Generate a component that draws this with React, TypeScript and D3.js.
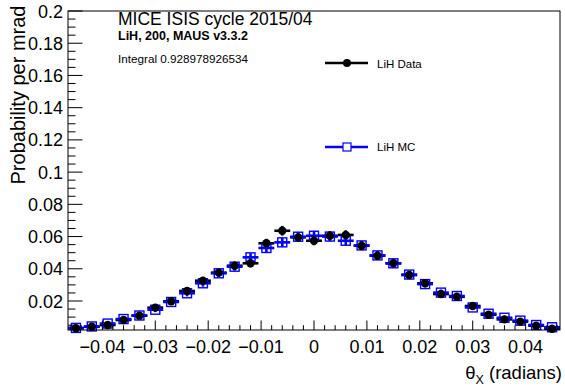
import React from "react";
import * as d3 from "d3";

const W = 565;
const H = 386;

const binCenters = [
  -0.045, -0.042, -0.039, -0.036, -0.033, -0.03, -0.027, -0.024, -0.021, -0.018, -0.015,
  -0.012, -0.009, -0.006, -0.003, 0, 0.003, 0.006, 0.009, 0.012, 0.015, 0.018, 0.021,
  0.024, 0.027, 0.03, 0.033, 0.036, 0.039, 0.042, 0.045,
];
const binHalfWidth = 0.0015;

const dataValues = [
  0.0031, 0.004, 0.0051, 0.0082, 0.0109, 0.0159, 0.0198, 0.0262, 0.0326, 0.0376, 0.0419,
  0.0434, 0.0558, 0.0636, 0.0595, 0.0574, 0.0605, 0.061, 0.0543, 0.0481, 0.0434, 0.0361,
  0.031, 0.0243, 0.0226, 0.0169, 0.0115, 0.0086, 0.0072, 0.0047, 0.0028,
];
const dataErrors = [
  0.0008, 0.0009, 0.001, 0.0012, 0.0014, 0.0016, 0.0018, 0.002, 0.0022, 0.0024, 0.0025,
  0.0025, 0.0028, 0.003, 0.0029, 0.0028, 0.0029, 0.0029, 0.0028, 0.0026, 0.0025, 0.0023,
  0.0021, 0.0019, 0.0018, 0.0016, 0.0013, 0.0012, 0.0011, 0.0009, 0.0008,
];
const mcValues = [
  0.0033, 0.0042, 0.006, 0.0088, 0.011, 0.0146, 0.0194, 0.0248, 0.031, 0.0372, 0.0413,
  0.0471, 0.0529, 0.0564, 0.0599, 0.0605, 0.06, 0.0574, 0.0545, 0.0483, 0.0434, 0.0364,
  0.0305, 0.0252, 0.0231, 0.016, 0.0121, 0.0096, 0.0078, 0.0051, 0.0037,
];
const mcErrors = [
  0.0007, 0.0008, 0.001, 0.0012, 0.0013, 0.0015, 0.0017, 0.0019, 0.0021, 0.0023, 0.0025,
  0.0026, 0.0028, 0.0029, 0.003, 0.003, 0.003, 0.0029, 0.0028, 0.0026, 0.0025, 0.0023,
  0.0021, 0.0019, 0.0018, 0.0015, 0.0013, 0.0012, 0.001, 0.0009, 0.0008,
];

const xTickLabels = [-0.04, -0.03, -0.02, -0.01, 0, 0.01, 0.02, 0.03, 0.04];
const yTickLabels = [0.02, 0.04, 0.06, 0.08, 0.1, 0.12, 0.14, 0.16, 0.18, 0.2];

const titleText = "MICE ISIS cycle 2015/04";
const subText = "LiH, 200, MAUS v3.3.2";
const integralText = "Integral 0.928978926534";
const legendData = "LiH Data";
const legendMC = "LiH MC";
const yTitle = "Probability per mrad";

const FONT = "'Liberation Sans', Arial, Helvetica, sans-serif";

export default function App() {
  const left = 68, right = 560, top = 11, bottom = 330;
  const x = d3.scaleLinear().domain([-0.0465, 0.0465]).range([left, right]);
  const y = d3.scaleLinear().domain([0.002, 0.2]).range([bottom, top]);

  const xMinor = d3.range(-46, 47, 2).map((v) => v / 1000).filter((v) => Math.abs(Math.round(v * 1000) % 10) !== 0);
  const yMinor = d3.range(5, 201, 5).map((v) => v / 1000).filter((v) => Math.round(v * 1000) % 20 !== 0);

  const fmt = (v: number) => (v === 0 ? "0" : d3.format("")(v).replace("-", "\u2212"));

  const bars = (vals: number[], errs: number[], color: string) =>
    vals.map((v, i) => {
      const c = binCenters[i];
      const cx = x(c);
      const cy = y(v);
      return (
        <g key={color + i}>
          <line x1={x(c - binHalfWidth)} x2={x(c + binHalfWidth)} y1={cy} y2={cy} stroke={color} strokeWidth={2.6} />
          <line x1={cx} x2={cx} y1={y(v + errs[i])} y2={y(v - errs[i])} stroke={color} strokeWidth={2.6} />
        </g>
      );
    });

  return (
    <svg width={W} height={H} style={{ position: "absolute", left: 0, top: 0, background: "white" }} fontFamily={FONT}>
      <rect x={0} y={0} width={W} height={H} fill="white" />
      {bars(dataValues, dataErrors, "#000000")}
      {bars(mcValues, mcErrors, "#0000ff")}
      {mcValues.map((v, i) => (
        <rect key={"sq" + i} x={x(binCenters[i]) - 4.5} y={y(v) - 4.5} width={9} height={9} fill="none" stroke="#0000ff" strokeWidth={1.4} />
      ))}
      {dataValues.map((v, i) => (
        <circle key={"ci" + i} cx={x(binCenters[i])} cy={y(v)} r={4.2} fill="#000000" />
      ))}
      {/* frame */}
      <rect x={left} y={top} width={right - left} height={bottom - top} fill="none" stroke="black" strokeWidth={1} />
      {/* x ticks */}
      {xTickLabels.map((t) => (
        <g key={"xt" + t}>
          <line x1={x(t)} x2={x(t)} y1={bottom} y2={bottom - 9.5} stroke="black" />
          <text x={x(t)} y={bottom + 23} textAnchor="middle" fontSize={18}>{fmt(t)}</text>
        </g>
      ))}
      {xMinor.map((t, i) => (
        <line key={"xm" + i} x1={x(t)} x2={x(t)} y1={bottom} y2={bottom - 4.8} stroke="black" />
      ))}
      {/* y ticks */}
      {yTickLabels.map((t) => (
        <g key={"yt" + t}>
          <line x1={left} x2={left + 14.5} y1={y(t)} y2={y(t)} stroke="black" />
          <text x={left - 5} y={y(t) + 6.5} textAnchor="end" fontSize={18}>{fmt(t)}</text>
        </g>
      ))}
      {yMinor.map((t, i) => (
        <line key={"ym" + i} x1={left} x2={left + 7.5} y1={y(t)} y2={y(t)} stroke="black" />
      ))}
      {/* axis titles */}
      <text transform="translate(25,95) rotate(-90)" textAnchor="middle" fontSize={20}>{yTitle}</text>
      <text x={562} y={379} textAnchor="end" fontSize={18.5}>
        <tspan>θ</tspan>
        <tspan fontSize={12.5} dy={4.5}>X</tspan>
        <tspan dy={-4.5}> (radians)</tspan>
      </text>
      {/* header text */}
      <text x={118} y={25} fontSize={17.5}>{titleText}</text>
      <text x={118} y={40} fontSize={12.5} fontWeight="bold">{subText}</text>
      <text x={118} y={63} fontSize={11.7}>{integralText}</text>
      {/* legend */}
      <line x1={325} x2={368} y1={63} y2={63} stroke="black" strokeWidth={2.6} />
      <circle cx={347} cy={63} r={4} fill="black" />
      <text x={377} y={67.5} fontSize={11.5}>{legendData}</text>
      <line x1={325} x2={368} y1={147} y2={147} stroke="#0000ff" strokeWidth={2.6} />
      <rect x={343} y={143} width={8} height={8} fill="white" stroke="#0000ff" strokeWidth={1.2} />
      <text x={377} y={151} fontSize={11.5}>{legendMC}</text>
    </svg>
  );
}
